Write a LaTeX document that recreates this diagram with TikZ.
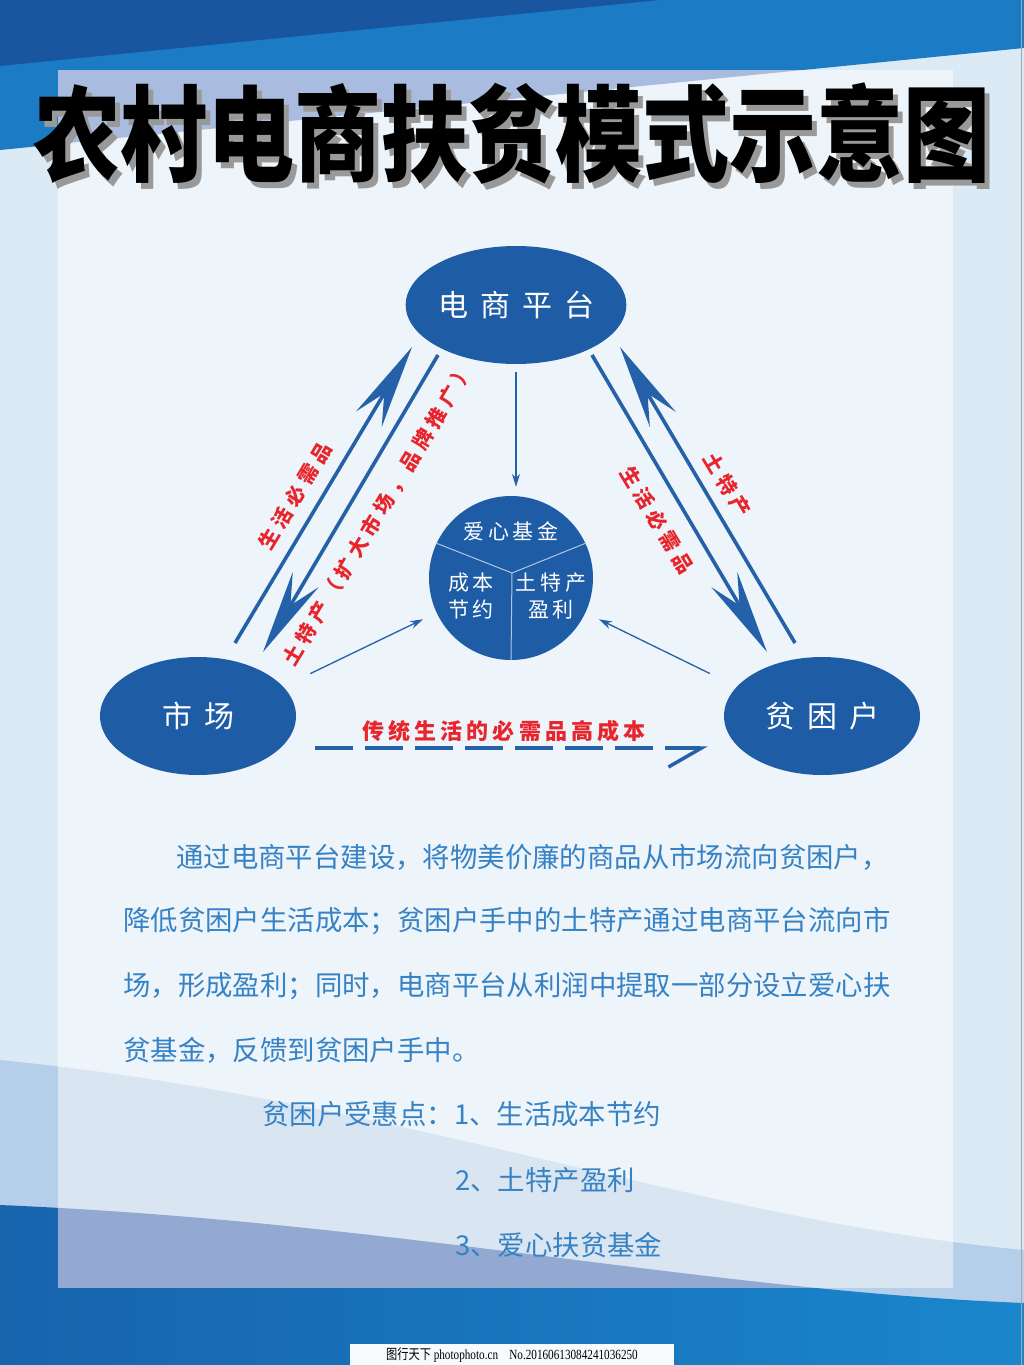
\documentclass[tikz,border=0pt]{standalone}
\usepackage{fontspec}
\usetikzlibrary{shapes.geometric,arrows.meta}
\newfontfamily\cjk{Noto Sans CJK SC}
\newfontfamily\wmfont{Liberation Serif}

\definecolor{hubblue}{HTML}{1F5CA6}
\definecolor{arrblue}{HTML}{2461A9}
\definecolor{labred}{HTML}{E8242C}
\definecolor{txtblue}{HTML}{3682C4}
\definecolor{bandblue}{HTML}{1B7BC4}
\definecolor{banddark}{HTML}{1A56A0}
\definecolor{bgblue}{HTML}{DCEAF6}
\definecolor{panel}{HTML}{EDF4FA}
\definecolor{lavender}{HTML}{A9BCE0}
\definecolor{wavelt}{HTML}{B5CFEA}
\definecolor{wavein}{HTML}{DAE5F2}
\definecolor{lavdark}{HTML}{93A9D2}
\definecolor{botleft}{HTML}{1764AD}
\definecolor{botright}{HTML}{1A86CC}

\newcommand{\titletext}{农村电商扶贫模式示意图}

\begin{document}
\begin{tikzpicture}[x=1pt,y=-1pt,
    hub/.style={ellipse, fill=hubblue, text=white, minimum width=196pt, minimum height=118pt, inner sep=0pt,
      font={\cjk\fontsize{30}{30}\selectfont\addfontfeature{LetterSpace=40}}},
    fund/.style={circle, fill=hubblue, minimum size=164pt, inner sep=0pt},
    infund/.style={text=white, align=center, inner sep=0pt,
      font={\cjk\fontsize{21}{27}\selectfont\addfontfeature{LetterSpace=18}}},
    redlbl/.style={text=labred, inner sep=0pt,
      font={\cjk\bfseries\fontsize{20}{20}\selectfont\addfontfeature{LetterSpace=26}}},
    flow/.style={draw=arrblue, line width=3.6pt, -{Stealth[length=84pt,width=30pt,inset=30pt]}},
    feed/.style={draw=arrblue, line width=1.3pt, -{Stealth[length=13pt,width=8pt]}},
    para/.style={anchor=west, inner sep=0pt, text=txtblue, font={\cjk\fontsize{27.4}{27.4}\selectfont}}]

  % background
  \useasboundingbox (0,0) rectangle (1024,1365);
  \fill[bgblue] (0,0) rectangle (1024,1365);
  \fill[bandblue] (0,0) -- (1024,0) -- (1024,48) -- (0,150) -- cycle;
  \fill[banddark] (0,0) -- (660,0) -- (0,66) -- cycle;
  \fill[wavelt] (0,1060) .. controls (400,1100) and (700,1220) .. (1024,1250) -- (1024,1365) -- (0,1365) -- cycle;
  \shade[left color=botleft, right color=botright] (0,1205) .. controls (400,1222) and (700,1290) .. (1024,1303) -- (1024,1365) -- (0,1365) -- cycle;
  \fill[panel] (58,70) rectangle (953,1287);
  \begin{scope}
    \clip (58,70) rectangle (953,1287);
    \fill[lavender] (58,70) -- (803,70) -- (58,144) -- cycle;
    \fill[wavein] (0,1060) .. controls (400,1100) and (700,1220) .. (1024,1250) -- (1024,1365) -- (0,1365) -- cycle;
    \fill[lavdark] (0,1205) .. controls (400,1222) and (700,1290) .. (1024,1303) -- (1024,1365) -- (0,1365) -- cycle;
  \end{scope}
  \draw[black!35, line width=1pt] (1021,0) -- (1021,1365);

  % title with its shadow
  \node[text=black, inner sep=0pt, font={\cjk\bfseries\fontsize{87}{87}\selectfont}] (title) at (512,137)
    {\scalebox{1}[1.2]{\rlap{\kern5pt\raisebox{-5pt}{\textcolor{black!40}{\titletext}}}\titletext}};

  % hubs
  \node[hub] (plat) at (516,305) {电商平台};
  \node[hub] (mkt) at (198,716) {市场};
  \node[hub] (poor) at (822,716) {贫困户};
  \node[fund] (fund) at (511,578) {};
  \coordinate (fj) at (512,573);
  \draw[white!65!hubblue, line width=1pt] (fund.155) -- (fj) -- (fund.25) (fj) -- (fund.270);
  \node[infund] (love) at (511,531) {爱心基金};
  \node[infund] (save) at (471,596) {成本\\节约};
  \node[infund] (gain) at (551,596) {土特产\\盈利};

  % flows market <-> platform
  \coordinate (l1s) at (235,643);
  \coordinate (l1e) at (412,347);
  \coordinate (l2s) at (438,355);
  \coordinate (l2e) at (263,652);
  \draw[flow] (l1s) -- (l1e);
  \draw[flow] (l2s) -- (l2e);
  \node[redlbl, rotate=59] (lneed) at (295,496) {生活必需品};
  \node[redlbl, rotate=59] (lspec) at (378,515) {土特产（扩大市场，品牌推广）};

  % flows platform <-> poor
  \coordinate (r1s) at (592,355);
  \coordinate (r1e) at (767,652);
  \coordinate (r2s) at (795,643);
  \coordinate (r2e) at (620,347);
  \draw[flow] (r1s) -- (r1e);
  \draw[flow] (r2s) -- (r2e);
  \node[redlbl, rotate=-59] (rspec) at (727,485) {土特产};
  \node[redlbl, rotate=-59] (rneed) at (657,520) {生活必需品};

  % into the fund
  \draw[feed, shorten <=8pt, shorten >=9pt] (plat.south) -- (plat.south |- fund.north);
  \draw[feed, shorten <=30pt, shorten >=15pt] (mkt.19) -- (fund.205);
  \draw[feed, shorten <=30pt, shorten >=15pt] (poor.161) -- (fund.335);

  % old way
  \coordinate (ds) at (315,748);
  \coordinate (de) at (708,748);
  \draw[arrblue, line width=3.5pt, dash pattern=on 38pt off 12pt,
    -{Straight Barb[harpoon,swap,length=33pt,width=38pt]}] (ds) -- (de);
  \node[redlbl, font={\cjk\bfseries\fontsize{22}{22}\selectfont\addfontfeature{LetterSpace=19}}] (cost) at (504,731) {传统生活的必需品高成本};

  % text
  \node[para] (p1) at (176,857) {通过电商平台建设，将物美价廉的商品从市场流向贫困户，};
  \node[para] (p2) at (123,921) {降低贫困户生活成本；贫困户手中的土特产通过电商平台流向市};
  \node[para] (p3) at (123,986) {场，形成盈利；同时，电商平台从利润中提取一部分设立爱心扶};
  \node[para] (p4) at (123,1050) {贫基金，反馈到贫困户手中。};
  \node[para] (b1) at (262,1114) {贫困户受惠点：1、生活成本节约};
  \node[para] (b2) at (455,1180) {2、土特产盈利};
  \node[para] (b3) at (455,1245) {3、爱心扶贫基金};

  % watermark
  \fill[white!80!bgblue] (350,1344) rectangle (674,1365);
  \node[text=black, inner sep=0pt, font={\wmfont\fontsize{14}{14}\selectfont}] (wm) at (512,1355) {\scalebox{0.8}[1]{{\cjk 图行天下} photophoto.cn\quad No.20160613084241036250}};
\end{tikzpicture}
\end{document}
